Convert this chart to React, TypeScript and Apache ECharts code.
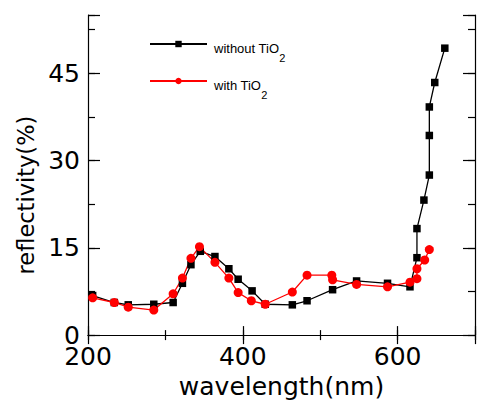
import React, { useEffect, useRef } from "react";
import * as echarts from "echarts";

const blackWavelength = [206, 234, 252, 285, 310, 322, 333, 345, 364, 382, 394, 412, 429, 464, 483, 516, 547, 587, 616, 625, 625, 634, 641, 641, 641, 648, 661];
const blackReflectivity = [6.8, 5.6, 5.2, 5.3, 5.6, 8.9, 12.1, 14.4, 13.5, 11.4, 9.6, 7.6, 5.3, 5.2, 5.9, 7.8, 9.3, 8.9, 8.3, 13.3, 18.3, 23.2, 27.5, 34.3, 39.2, 43.4, 49.3];
const redWavelength = [206, 234, 252, 285, 310, 322, 333, 344, 364, 382, 394, 411, 429, 464, 483, 515, 516, 547, 587, 616, 625, 625, 635, 641];
const redReflectivity = [6.4, 5.6, 4.8, 4.3, 7.1, 9.8, 13.2, 15.2, 12.5, 9.8, 7.3, 5.9, 5.3, 7.4, 10.3, 10.3, 9.5, 8.7, 8.3, 9.1, 9.7, 11.4, 12.9, 14.7];
const seriesNames = ["without TiO2", "with TiO2"];
const xTickLabels = [200, 400, 600];
const yTickLabels = [0, 15, 30, 45];

const AXIS_FONT = "'DejaVu Sans', sans-serif";
const LEGEND_FONT = "'Liberation Sans Narrow', 'Liberation Sans', Arial, sans-serif";

export default function App() {
  const ref = useRef<HTMLDivElement>(null);
  useEffect(() => {
    if (!ref.current) return;
    const chart = echarts.init(ref.current, null, { renderer: "svg" });
    const black = blackWavelength.map((x, i) => [x, blackReflectivity[i]]);
    const red = redWavelength.map((x, i) => [x, redReflectivity[i]]);
    const axisLine = { show: true, lineStyle: { color: "#000", width: 1.2 } };
    const noLine = { show: false };
    const xBase = { type: "value", min: 200, max: 700, splitLine: { show: false }, gridIndex: 0 };
    const yBase = { type: "value", min: 0, max: 55, splitLine: { show: false }, gridIndex: 0 };
    const tick = (len: number) => ({ show: true, inside: true, length: len, lineStyle: { color: "#000", width: 1.2 } });
    const legendRich = {
      a: { fontSize: 13, lineHeight: 14, padding: [4.5, 0, 0, 2], verticalAlign: "top", color: "#000", fontFamily: LEGEND_FONT },
      b: { fontSize: 11, lineHeight: 14, padding: [15.5, 0, 0, 0], verticalAlign: "top", color: "#000", fontFamily: LEGEND_FONT },
    };
    const legendFormatter = (name: string) => `{a|${name.slice(0, -1)}}{b|${name.slice(-1)}}`;
    const legendCommon = {
      orient: "vertical",
      left: 149,
      padding: 0,
      itemWidth: 57,
      itemHeight: 8,
      formatter: legendFormatter,
      textStyle: { rich: legendRich },
      selectedMode: false,
    };
    chart.setOption({
      animation: false,
      backgroundColor: "#fff",
      grid: { left: 88, top: 15, right: -6, bottom: 59, containLabel: false },
      legend: [
        { ...legendCommon, top: 37, data: [seriesNames[0]] },
        { ...legendCommon, top: 74, data: [seriesNames[1]] },
      ],
      xAxis: [
        {
          ...xBase,
          position: "bottom",
          interval: 200,
          axisLine,
          axisTick: tick(9),
          axisLabel: {
            fontSize: 25,
            lineHeight: 20,
            fontFamily: AXIS_FONT,
            color: "#000",
            margin: 11.5,
            formatter: (v: number) => (xTickLabels.includes(v) ? String(v) : ""),
          },
          name: "wavelength(nm)",
          nameLocation: "middle",
          nameGap: 31,
          nameTextStyle: { fontSize: 25, fontFamily: AXIS_FONT, color: "#000" },
        },
        { ...xBase, position: "bottom", interval: 100, axisLine: noLine, axisTick: tick(5), axisLabel: { show: false } },
        { ...xBase, position: "top", interval: 200, axisLine, axisTick: tick(9), axisLabel: { show: false } },
        { ...xBase, position: "top", interval: 100, axisLine: noLine, axisTick: tick(5), axisLabel: { show: false } },
      ],
      yAxis: [
        {
          ...yBase,
          position: "left",
          interval: 15,
          axisLine,
          axisTick: tick(12),
          axisLabel: {
            fontSize: 25,
            lineHeight: 18,
            fontFamily: AXIS_FONT,
            color: "#000",
            margin: 8,
            formatter: (v: number) => (yTickLabels.includes(v) ? String(v) : ""),
          },
          name: "reflectivity(%)",
          nameLocation: "middle",
          nameGap: 51,
          nameTextStyle: { fontSize: 22.5, fontFamily: AXIS_FONT, color: "#000", padding: [0, 40, 0, 0] },
        },
        { ...yBase, position: "left", interval: 7.5, axisLine: noLine, axisTick: tick(7), axisLabel: { show: false } },
        { ...yBase, position: "right", interval: 15, axisLine, axisTick: tick(12), axisLabel: { show: false } },
        { ...yBase, position: "right", interval: 7.5, axisLine: noLine, axisTick: tick(7), axisLabel: { show: false } },
      ],
      series: [
        {
          name: seriesNames[0],
          type: "line",
          xAxisIndex: 0,
          yAxisIndex: 0,
          data: black,
          symbol: "rect",
          symbolSize: 7.5,
          color: "#000",
          itemStyle: { color: "#000" },
          lineStyle: { color: "#000", width: 1.3 },
        },
        {
          name: seriesNames[1],
          type: "line",
          xAxisIndex: 0,
          yAxisIndex: 0,
          data: red,
          symbol: "circle",
          symbolSize: 9,
          color: "#ff0000",
          itemStyle: { color: "#ff0000" },
          lineStyle: { color: "#ff0000", width: 1.3 },
        },
      ],
    });
    return () => chart.dispose();
  }, []);
  return <div ref={ref} style={{ position: "absolute", left: 0, top: 0, width: 478, height: 404 }} />;
}
